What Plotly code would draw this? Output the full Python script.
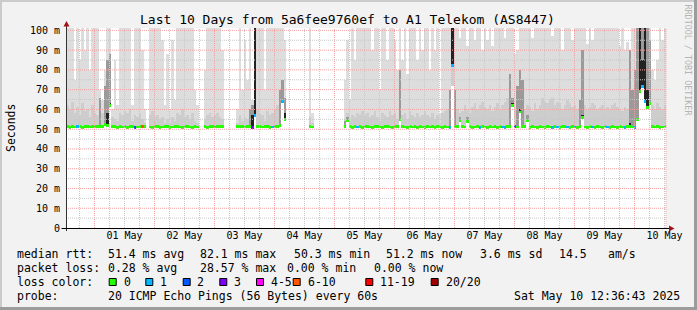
import plotly.graph_objects as go
import pandas as pd

# ---------------- data ----------------
START = "2025-04-30 12:36:43"
END = "2025-05-10 12:36:43"
N = None

# hourly median RTT in ms (None = no data)
median_ms = [
    51.2, 51.0, 51.3, 51.1, 51.4, 51.2, 51.0, 51.3, 51.2, 51.1, 51.5, 51.3,
    51.2, 51.4, 51.6, 52.5, 51.8, 62.0, 51.6, 51.2, 51.0, 51.3, 51.1, 51.2,
    51.0, 51.3, 51.2, 50.9, 51.1, 51.4, 51.6, 51.2, N, 51.1, 51.0, 51.3,
    51.2, 51.0, 51.1, 51.3, 51.2, 51.0, 51.1, 51.4, 51.2, 51.1, 51.0, 51.2,
    51.3, 51.1, 51.0, 51.2, 51.1, N, N, 51.2, 51.0, 51.3, 51.2, 51.1,
    51.2, 51.4, 51.3, N, N, N, N, N, 51.2, 51.5, 51.3, 51.1,
    51.3, 51.6, 51.0, 57.0, 51.4, 51.2, 51.1, 51.3, 51.2, 51.0, 51.1, 51.4,
    51.2, 52.0, 64.0, 55.0, N, N, N, N, N, N, N, N,
    N, 51.3, 51.1, N, N, N, N, N, N, N, N, N,
    N, N, N, 51.4, 54.6, 51.2, 51.0, 51.3, 51.1, 51.2, 51.0, 51.3,
    51.2, 51.1, 51.0, 51.3, 51.2, 51.1, 51.0, 51.2, 51.3, 51.1, 51.0, 51.2,
    51.4, 55.0, 51.3, 51.1, 51.0, 51.2, 51.1, 51.3, 51.0, 51.2, 51.1, 51.0,
    51.2, 51.1, 51.3, 51.0, 51.2, 51.1, 51.0, 51.2, 51.1, 51.0, 82.1, 51.6,
    51.3, 54.6, 51.2, 51.1, 54.0, 51.2, 51.0, 51.1, 51.3, 51.0, 51.2, 51.1,
    51.0, 51.2, 51.1, 51.3, 51.0, 51.2, 51.1, 51.0, 51.2, 51.3, 62.0, 51.2,
    51.1, 58.7, 51.3, 51.2, 54.6, 51.0, 51.2, 51.1, 51.0, 51.2, 51.1, 51.0,
    51.2, 51.1, 51.0, 51.2, 51.1, 51.0, 51.2, 51.3, 51.1, 51.0, 51.2, 51.1,
    51.0, 51.2, 56.0, 51.1, 51.0, 51.2, 51.1, 51.0, 51.2, 51.1, 51.0, 51.2,
    51.1, 51.0, 51.2, 51.1, 51.0, 51.2, 51.1, 51.0, 51.2, 51.6, 51.1, 51.0,
    55.0, 69.0, 71.5, 64.0, 61.0, 63.0, 51.3, 51.1, 51.2, 51.0, 51.1, 51.2,
]

# hourly top of the light smoke (highest ping), ms
smoke_max_ms = [
    102, 102, 102, 75, 102, 85, 102, 90, 102, 80, 102, 102,
    102, 70, 65, 80, 102, 102, 60, 85, 62, 102, 102, 102,
    102, 102, 62, 102, 102, 102, 90, 60, N, 102, 102, 102,
    102, 102, 95, 62, 88, 60, 95, 65, 102, 102, 102, 102,
    102, 102, 102, 70, 62, N, N, 80, 102, 102, 102, 102,
    102, 102, 90, N, N, N, N, N, 60, 102, 70, 95,
    75, 102, 65, 102, 102, 102, 102, 70, 102, 102, 102, 102,
    102, 102, 102, 95, N, N, N, N, N, N, N, N,
    N, 102, 58, N, N, N, N, N, N, N, N, N,
    N, N, N, 75, 95, 65, 102, 85, 102, 102, 102, 102,
    102, 102, 90, 102, 102, 70, 102, 102, 85, 102, 102, 95,
    80, 102, 85, 102, 78, 102, 102, 102, 85, 102, 90, 102,
    102, 80, 102, 90, 102, 58, 102, 102, 102, 102, 102, 102,
    102, 96, 102, 102, 92, 102, 102, 95, 102, 102, 90, 102,
    95, 102, 92, 102, 102, 102, 102, 96, 102, 102, 102, 88,
    90, 102, 102, 102, 102, 102, 96, 102, 102, 102, 102, 102,
    102, 102, 97, 102, 102, 102, 90, 102, 102, 102, 95, 102,
    102, 102, 102, 102, 93, 102, 95, 102, 102, 102, 102, 102,
    102, 102, 102, 102, 102, 92, 102, 90, 94, 88, 102, 102,
    102, 102, 102, 102, 102, 102, 80, 75, 85, 102, 95, 102,
]

# hourly top of the denser (medium grey) smoke, ms
smoke_mid_ms = [
    62, 60, 64, 58, 61, 57, 63, 59, 60, 56, 62, 58,
    57, 60, 58, 66, 70, 68, 56, 55, 54, 58, 57, 59,
    58, 60, 54, 57, 56, 58, 55, 53, N, 57, 59, 56,
    57, 55, 56, 53, 55, 53, 56, 54, 58, 57, 60, 56,
    57, 55, 58, 54, 53, N, N, 55, 57, 58, 56, 57,
    58, 56, 55, N, N, N, N, N, 53, 57, 54, 56,
    55, 58, 57, 66, 60, 58, 57, 54, 59, 57, 58, 60,
    62, 64, 68, 62, N, N, N, N, N, N, N, N,
    N, 56, 53, N, N, N, N, N, N, N, N, N,
    N, N, N, 55, 58, 54, 57, 56, 58, 57, 59, 57,
    58, 56, 57, 59, 56, 54, 58, 57, 56, 59, 57, 58,
    55, 60, 57, 58, 55, 59, 57, 56, 58, 56, 57, 59,
    57, 56, 58, 55, 57, 53, 58, 59, 60, 62, 72, 64,
    60, 58, 59, 62, 60, 58, 61, 63, 60, 62, 64, 61,
    60, 62, 59, 61, 63, 60, 62, 64, 66, 65, 64, 60,
    62, 65, 63, 60, 62, 61, 59, 63, 60, 62, 66, 64,
    63, 65, 66, 62, 64, 63, 60, 62, 65, 63, 61, 62,
    60, 63, 66, 62, 60, 61, 63, 62, 60, 61, 62, 60,
    61, 60, 62, 63, 61, 60, 59, 61, 60, 64, 66, 68,
    80, 85, 90, 85, 82, 78, 62, 60, 63, 61, 60, 62,
]

# dark smoke (many pings high) - sparse
dark_hours = [13, 15, 16, 17, 73, 74, 75, 85, 86, 87, 111, 112, 133, 153, 154, 155,
              157, 160, 177, 178, 180, 181, 182, 184, 205, 206, 225, 226, 227,
              228, 229, 230, 231, 232, 233]
dark_top_ms = [66, 72, 85, 88, 60, 62, 102, 70, 75, 66, 54, 56, 80, 70, 102, 70,
               56, 56, 78, 66, 72, 80, 75, 57, 65, 90, 90, 70, 80,
               102, 102, 102, 102, 102, 95]

# black smoke - sparse
black_hours = [16, 17, 74, 75, 86, 87, 112, 133, 154, 157, 160, 178, 181, 184, 206,
               225, 229, 230, 231, 232]
black_top_ms = [58, 63, 57, 102, 64, 58, 54, 55, 102, 54.5, 54, 63, 60, 55, 57,
                53, 102, 85, 102, 70]

# packet loss (pings lost out of 20) - sparse
loss_hours = [4, 27, 30, 74, 75, 82, 86, 116, 153, 154, 165, 174, 175, 179, 194, 196,
              200, 203, 210, 216, 223, 227, 230, 231]
loss_pings = [1, 2, 7, 3, 1, 1, 1, 1, 1, 1, 1, 1, 1, 2, 1, 1,
              1, 1, 1, 1, 1, 1, 1, 1]

day_tick_labels = ["01 May", "02 May", "03 May", "04 May", "05 May",
                   "06 May", "07 May", "08 May", "09 May", "10 May"]
y_tick_ms = [0, 10, 20, 30, 40, 50, 60, 70, 80, 90, 100]
y_tick_labels = ["0", "10 m", "20 m", "30 m", "40 m", "50 m",
                 "60 m", "70 m", "80 m", "90 m", "100 m"]

loss_legend_labels = ["0", "1", "2", "3", "4-5", "6-10", "11-19", "20/20"]
loss_legend_colors = ["#26ff00", "#00b8ff", "#0059ff", "#7e00ff",
                      "#ff00ff", "#ff5500", "#ff0000", "#a10000"]
loss_bucket_upper = [0, 1, 2, 3, 5, 10, 19, 20]

title_text = "Last 10 Days from 5a6fee9760ef to A1 Telekom (AS8447)"
rtt_stats = ["51.4 ms avg", "82.1 ms max", "50.3 ms min", "51.2 ms now",
             "3.6 ms sd", "14.5", "am/s"]
loss_stats = ["0.28 % avg", "28.57 % max", "0.00 % min", "0.00 % now"]
probe_text = "20 ICMP Echo Pings (56 Bytes) every 60s"
stamp_text = "Sat May 10 12:36:43 2025"

# ---------------- layout geometry ----------------
W_IMG, H_IMG = 697, 310
L, T, PW, PH = 66, 28, 600, 200
Y_TOP = 101.2
FONT = "DejaVu Sans Mono"


def pxx(x):
    return (x - L) / PW


def pxy(y):
    return (T + PH - y) / PH


start = pd.Timestamp(START)
end = pd.Timestamp(END)
hour = pd.Timedelta(hours=1)
n = len(median_ms)
centers = [start + (i + 0.5) * hour for i in range(n)]
BW = 3600 * 1000


def color_for_loss(k):
    for c, up in zip(loss_legend_colors, loss_bucket_upper):
        if k <= up:
            return c
    return loss_legend_colors[-1]


fig = go.Figure()


def smoke_layer(tops, color):
    xs, bases, hs = [], [], []
    for i in range(n):
        m, tp = median_ms[i], tops[i]
        if m is None or tp is None:
            continue
        xs.append(centers[i])
        bases.append(m - 0.6)
        hs.append(tp - (m - 0.6))
    fig.add_trace(go.Bar(x=xs, y=hs, base=bases, width=BW,
                         marker=dict(color=color, line=dict(width=0)),
                         hoverinfo="skip", showlegend=False))


def sparse_layer(hours, tops, color):
    full = [None] * n
    for h, v in zip(hours, tops):
        full[h] = v
    smoke_layer(full, color)


smoke_layer(smoke_max_ms, "#dddddd")
smoke_layer(smoke_mid_ms, "#cdcdcd")
sparse_layer(dark_hours, dark_top_ms, "#9a9a9a")
sparse_layer(black_hours, black_top_ms, "#222222")

# median line coloured by loss
loss_full = [0] * n
for h, k in zip(loss_hours, loss_pings):
    loss_full[h] = k
mx, mb, mc = [], [], []
for i in range(n):
    if median_ms[i] is None:
        continue
    mx.append(centers[i])
    mb.append(median_ms[i] - 0.75)
    mc.append(color_for_loss(loss_full[i]))
fig.add_trace(go.Bar(x=mx, y=[1.5] * len(mx), base=mb, width=BW,
                     marker=dict(color=mc, line=dict(width=0)),
                     hoverinfo="skip", showlegend=False))

# ---------------- grid (on top, like rrdtool) ----------------
RED = "#f4a0a0"
GRAY = "#c8c8c8"
shapes = []
t = start.ceil("6h")
while t <= end:
    major = t.hour == 0
    shapes.append(dict(type="line", xref="x", yref="paper", x0=t, x1=t, y0=0, y1=1,
                       line=dict(color=RED if major else GRAY, width=1, dash="1px,1px"),
                       layer="above"))
    t += pd.Timedelta(hours=6)
for v in range(5, 101, 5):
    shapes.append(dict(type="line", xref="paper", yref="y", x0=0, x1=1, y0=v, y1=v,
                       line=dict(color=RED if v % 10 == 0 else GRAY, width=1,
                                 dash="1px,1px"),
                       layer="above"))
shapes.append(dict(type="line", xref="paper", yref="paper", x0=1, x1=1, y0=0, y1=1,
                   line=dict(color=RED, width=1, dash="1px,1px"), layer="above"))

# axes lines + arrows
AX = "#000000"
shapes.append(dict(type="line", xref="paper", yref="paper",
                   x0=pxx(66.5), x1=pxx(66.5), y0=pxy(231), y1=pxy(25),
                   line=dict(color="#333333", width=1), layer="above"))
shapes.append(dict(type="line", xref="paper", yref="paper",
                   x0=pxx(61.5), x1=pxx(670), y0=pxy(228.5), y1=pxy(228.5),
                   line=dict(color=AX, width=1), layer="above"))
ARW = "#a01414"
shapes.append(dict(type="path", xref="paper", yref="paper", layer="above",
                   path="M %f %f L %f %f L %f %f Z" % (pxx(66.5), pxy(21), pxx(63.5), pxy(26.5),
                                                       pxx(69.5), pxy(26.5)),
                   fillcolor=ARW, line=dict(width=0)))
shapes.append(dict(type="path", xref="paper", yref="paper", layer="above",
                   path="M %f %f L %f %f L %f %f Z" % (pxx(674.5), pxy(228.5), pxx(669), pxy(225.5),
                                                       pxx(669), pxy(231.5)),
                   fillcolor=ARW, line=dict(width=0)))

# 3D frame of the image
shapes.append(dict(type="rect", xref="paper", yref="paper", layer="above",
                   x0=pxx(0), x1=pxx(W_IMG), y0=pxy(0), y1=pxy(2),
                   fillcolor="#cbcbcb", line=dict(width=0)))
shapes.append(dict(type="rect", xref="paper", yref="paper", layer="above",
                   x0=pxx(0), x1=pxx(2), y0=pxy(0), y1=pxy(H_IMG),
                   fillcolor="#cbcbcb", line=dict(width=0)))
shapes.append(dict(type="rect", xref="paper", yref="paper", layer="above",
                   x0=pxx(0), x1=pxx(W_IMG), y0=pxy(H_IMG - 3), y1=pxy(H_IMG),
                   fillcolor="#9c9c9c", line=dict(width=0)))
shapes.append(dict(type="rect", xref="paper", yref="paper", layer="above",
                   x0=pxx(W_IMG - 3), x1=pxx(W_IMG), y0=pxy(0), y1=pxy(H_IMG),
                   fillcolor="#9c9c9c", line=dict(width=0)))

# legend colour boxes
box_x = [108.7, 145.3, 182.7, 219.3, 256.0, 292.7, 365.3, 430.7]
lab_x = [123.3, 160.0, 196.7, 233.3, 270.7, 307.3, 380.0, 445.3]
for bx, c in zip(box_x, loss_legend_colors):
    shapes.append(dict(type="rect", xref="paper", yref="paper", layer="above",
                       x0=pxx(bx + 0.5), x1=pxx(bx + 7.5), y0=pxy(278.5), y1=pxy(285.5),
                       fillcolor=c, line=dict(color="#000000", width=1)))

# ---------------- text ----------------
ann = []
LF = 11.5


def text(x, y, s, size=LF, anchor="left", color="#000000", angle=0):
    ann.append(dict(xref="paper", yref="paper", x=pxx(x), y=pxy(y), text=s,
                    showarrow=False, xanchor=anchor, yanchor="middle",
                    textangle=angle, borderpad=0,
                    font=dict(family=FONT, size=size, color=color)))


text(347.5, 19, title_text, size=13, anchor="center")
text(11, 128, "Seconds", size=LF, anchor="center", angle=-90)
text(687.5, 60, "RRDTOOL / TOBI OETIKER", size=8.4, anchor="center",
     color="#b4b4b4", angle=90)

ROWS = [254, 268, 282, 296]
text(16, ROWS[0], "median rtt:")
for x, s in zip([107.3, 200, 293.3, 386, 479.3, 558.7, 607.3], rtt_stats):
    text(x - 0.8, ROWS[0], s)
text(16, ROWS[1], "packet loss:")
for x, s in zip([107.3, 200, 286.7, 373.3], loss_stats):
    text(x - 0.8, ROWS[1], s)
text(16, ROWS[2], "loss color:")
for x, s in zip(lab_x, loss_legend_labels):
    text(x - 0.8, ROWS[2], s)
text(16, ROWS[3], "probe:")
text(107.3 - 0.8, ROWS[3], probe_text)
text(680.5, ROWS[3], stamp_text, anchor="right")

tick_times = [pd.Timestamp("2025-05-01 12:00") + pd.Timedelta(days=d)
              for d in range(len(day_tick_labels))]

fig.update_layout(
    width=W_IMG, height=H_IMG,
    margin=dict(l=L, r=W_IMG - L - PW, t=T, b=H_IMG - T - PH, pad=0),
    paper_bgcolor="#f2f2f2", plot_bgcolor="#ffffff",
    barmode="overlay", bargap=0, bargroupgap=0,
    showlegend=False,
    shapes=shapes, annotations=ann,
    xaxis=dict(type="date", range=[start, end], showgrid=False, zeroline=False,
               showline=False, ticks="", tickvals=tick_times, ticktext=day_tick_labels,
               tickfont=dict(family=FONT, size=10, color="#000000"), fixedrange=True),
    yaxis=dict(range=[0, Y_TOP], showgrid=False, zeroline=False, showline=False,
               ticks="", tickvals=y_tick_ms, ticktext=y_tick_labels,
               tickfont=dict(family=FONT, size=10, color="#000000"), fixedrange=True,
               ticklabelstandoff=5),
)

fig.write_html("out.html", config=dict(displayModeBar=False))
